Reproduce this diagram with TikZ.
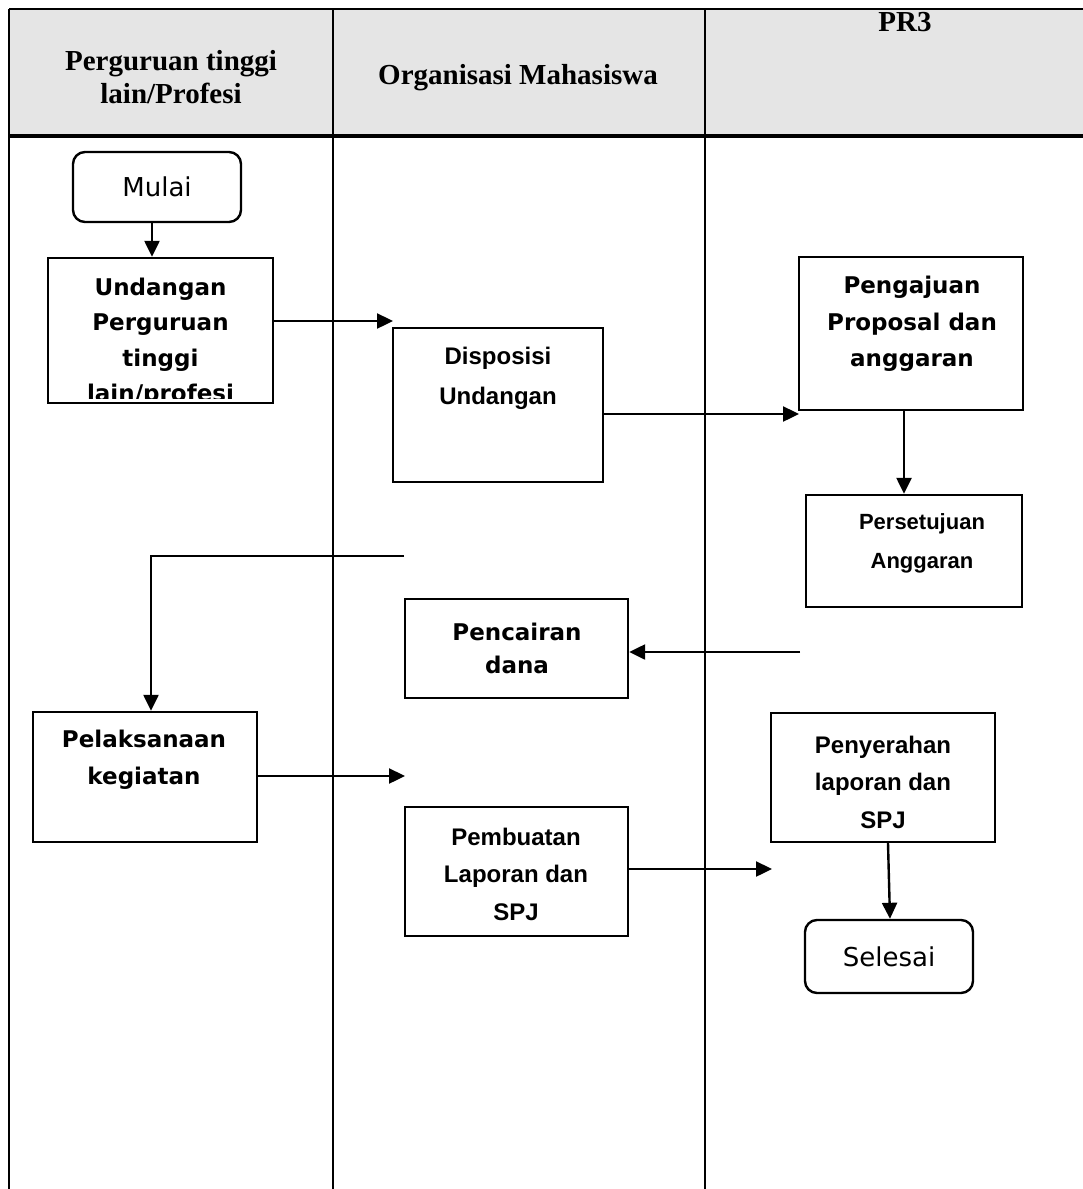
\documentclass[tikz,border=0pt]{standalone}
\usepackage{fontspec}
\setmainfont{Liberation Serif}
\newfontfamily\tahoma{DejaVu Sans}
\newfontfamily\arial{Liberation Sans}
\usetikzlibrary{arrows.meta}
\tikzset{
  box/.style={draw, line width=2.4pt, inner sep=0pt},
  term/.style={box, rounded corners=12pt, font=\tahoma\fontsize{26}{30}\selectfont},
  tbold/.style={align=center, font=\tahoma\bfseries\fontsize{23}{36.5}\selectfont},
  abold/.style={align=center, font=\arial\bfseries\fontsize{24}{38}\selectfont},
  head/.style={align=center, font=\bfseries\fontsize{29}{33}\selectfont},
  arr/.style={line width=2.4pt, -{Triangle[length=16pt,width=15pt]}},
}
\begin{document}
\begin{tikzpicture}[x=1pt,y=-1pt]
    \useasboundingbox (0,0) rectangle (1083,1189);
    
    % lanes
    \fill[black!10] (9,9) rectangle (1083,136);
    \draw[line width=2.4pt] (9,9) -- (1083,9);
    \draw[line width=3.2pt] (9,136) -- (1083,136);
    \draw[line width=2.4pt] (9,9) -- (9,1189) (333,9) -- (333,1189) (705,9) -- (705,1189);
    
    \node[head] (lane1) at (171,77) {Perguruan tinggi\\lain/Profesi};
    \node[head] (lane2) at (518,78) {Organisasi Mahasiswa};
    \node[head] (lane3) at (905,22) {PR3};
    
    % boxes
    \node[term, minimum width=168pt, minimum height=70pt] (mulai) at (157,187) {Mulai};
    \node[box, minimum width=225pt, minimum height=145pt] (undang) at (160.5,330.5) {};
    \node[box, minimum width=210pt, minimum height=154pt] (dispo) at (498,405) {};
    \node[box, minimum width=224pt, minimum height=153pt] (ajuan) at (911,333.5) {};
    \node[box, minimum width=216pt, minimum height=112pt] (setuju) at (914,551) {};
    \node[box, minimum width=223pt, minimum height=99pt] (cair) at (516.5,648.5) {};
    \node[box, minimum width=224pt, minimum height=130pt] (laksana) at (145,777) {};
    \node[box, minimum width=223pt, minimum height=129pt] (buat) at (516.5,871.5) {};
    \node[box, minimum width=224pt, minimum height=129pt] (serah) at (883,777.5) {};
    \node[term, minimum width=168pt, minimum height=73pt] (selesai) at (889,956.5) {Selesai};
    
    % box texts
    \begin{scope}
        \clip (49,259) rectangle (272,398);
        \node[tbold, font=\tahoma\bfseries\fontsize{23}{35.5}\selectfont] (undang-t) at (160.5,342) {Undangan\\Perguruan\\tinggi\\lain/profesi};
    \end{scope}
    \node[abold, font=\arial\bfseries\fontsize{24}{40}\selectfont] (dispo-t) at (498,378) {Disposisi\\Undangan};
    \node[tbold] (ajuan-t) at (912,324) {Pengajuan\\Proposal dan\\anggaran};
    \node[abold, font=\arial\bfseries\fontsize{22}{39}\selectfont] (setuju-t) at (922,543) {Persetujuan\\Anggaran};
    \node[tbold, font=\tahoma\bfseries\fontsize{23}{33}\selectfont] (cair-t) at (517,648) {Pencairan\\dana};
    \node[tbold, font=\tahoma\bfseries\fontsize{23}{37}\selectfont] (laksana-t) at (144,760) {Pelaksanaan\\kegiatan};
    \node[abold, font=\arial\bfseries\fontsize{24}{37.5}\selectfont] (buat-t) at (516,874) {Pembuatan\\Laporan dan\\SPJ};
    \node[abold, font=\arial\bfseries\fontsize{24}{37.5}\selectfont] (serah-t) at (883,782) {Penyerahan\\laporan dan\\SPJ};
    
    % arrows
    \coordinate (c1) at (393,321);
    \coordinate (c2) at (799,414);
    \coordinate (c3) at (404,556);
    \coordinate (c4) at (800,652);
    \coordinate (c5) at (405,776);
    \coordinate (c6) at (772,869);
    \draw[arr] ([xshift=-5pt]mulai.south) -- ([xshift=-5pt]mulai.south |- undang.north);
    \draw[arr] (undang.east |- c1) -- (c1);
    \draw[arr] (dispo.east |- c2) -- (c2);
    \draw[arr] ([xshift=-7pt]ajuan.south) -- ([xshift=-7pt]ajuan.south |- setuju.north);
    \draw[arr] (c3) -| ([xshift=6pt]laksana.north);
    \draw[arr] (c4) -- (c4 -| cair.east);
    \draw[arr] (laksana.east |- c5) -- (c5);
    \draw[arr] (buat.east |- c6) -- (c6);
    \draw[arr] ([xshift=5pt]serah.south) -- ([xshift=1pt]selesai.north);
    
\end{tikzpicture}
\end{document}
